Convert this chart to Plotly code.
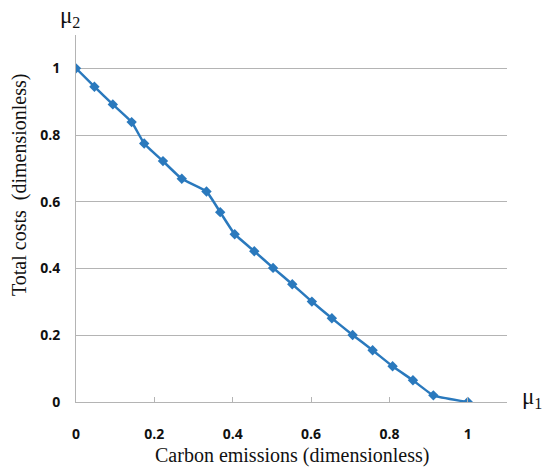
import plotly.graph_objects as go

# Data
carbon_emissions = [0.0, 0.047, 0.094, 0.142, 0.174, 0.222, 0.270, 0.333, 0.368, 0.405,
                    0.455, 0.503, 0.552, 0.602, 0.653, 0.706, 0.757, 0.808, 0.860, 0.912, 1.0]
total_costs = [1.0, 0.945, 0.892, 0.839, 0.775, 0.722, 0.669, 0.631, 0.569, 0.503,
               0.452, 0.402, 0.353, 0.301, 0.251, 0.201, 0.155, 0.107, 0.065, 0.020, 0.0]
x_ticks = [0, 0.2, 0.4, 0.6, 0.8, 1]
x_tick_labels = ["0", "0.2", "0.4", "0.6", "0.8", "1"]
y_ticks = [0, 0.2, 0.4, 0.6, 0.8, 1]
y_tick_labels = ["0", "0.2", "0.4", "0.6", "0.8", "1"]

line_color = "#2a79bd"
grid_color = "#b4b4b4"
serif = "Liberation Serif"

fig = go.Figure()
fig.add_trace(go.Scatter(
    x=carbon_emissions, y=total_costs,
    mode="lines+markers",
    line=dict(color=line_color, width=2.5, shape="spline", smoothing=0.4),
    marker=dict(symbol="diamond", size=8, color=line_color),
    showlegend=False,
))

fig.update_layout(
    width=542, height=470,
    margin=dict(l=76, r=35, t=35, b=68),
    plot_bgcolor="white", paper_bgcolor="white",
    xaxis=dict(
        range=[0, 1.1], tickvals=x_ticks, ticktext=x_tick_labels,
        showgrid=False, zeroline=False,
        showline=True, linecolor=grid_color, linewidth=1,
        ticks="inside", ticklen=5, tickcolor=grid_color,
        tickfont=dict(family="Open Sans", size=14, color="#111", weight="bold"),
        ticklabelstandoff=19,
    ),
    yaxis=dict(
        range=[0, 1.1], tickvals=y_ticks, ticktext=y_tick_labels,
        showgrid=True, gridcolor=grid_color, gridwidth=1,
        zeroline=False,
        showline=True, linecolor=grid_color, linewidth=1,
        ticks="", ticklabelstandoff=12,
        tickfont=dict(family="Open Sans", size=14, color="#111", weight="bold"),
    ),
    annotations=[
        dict(text="Carbon emissions (dimensionless)", xref="paper", yref="paper",
             x=0.5, y=-0.145, xanchor="center", yanchor="middle", showarrow=False,
             font=dict(family=serif, size=20, color="#111")),
        dict(text="Total costs  (dimensionless)", xref="paper", yref="paper",
             x=-0.131, y=0.59, xanchor="center", yanchor="middle", showarrow=False,
             textangle=-90, font=dict(family=serif, size=20, color="#111")),
        dict(text="μ<sub>2</sub>", xref="paper", yref="paper",
             x=-0.013, y=1.05, xanchor="center", yanchor="middle", showarrow=False,
             font=dict(family=serif, size=23, color="#111")),
        dict(text="μ<sub>1</sub>", xref="paper", yref="paper",
             x=1.058, y=0.01, xanchor="center", yanchor="middle", showarrow=False,
             font=dict(family=serif, size=23, color="#111")),
    ],
)

fig.write_html("out.html", config={"displayModeBar": False},
               post_script="document.body.style.margin='0';")
